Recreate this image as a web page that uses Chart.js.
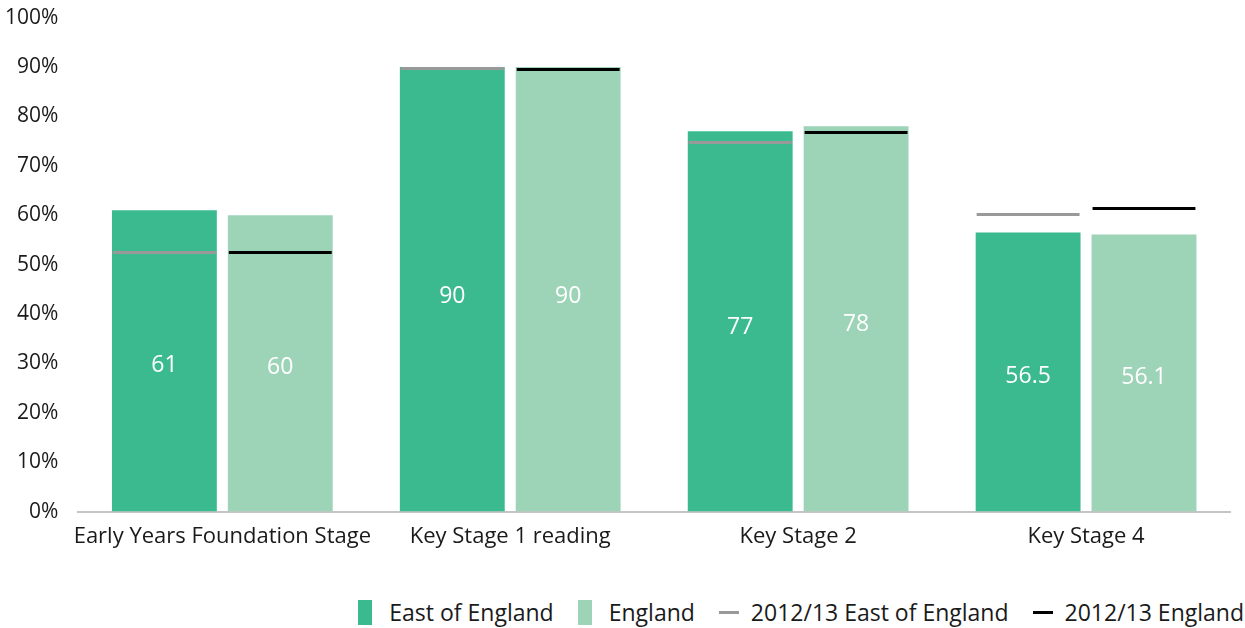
<!DOCTYPE html>
<html>
<head>
<meta charset="utf-8">
<script src="https://cdn.jsdelivr.net/npm/chart.js@4/dist/chart.umd.min.js"></script>
<style>
  html, body { margin: 0; padding: 0; background: #fff; overflow: hidden; }
  body { width: 1245px; height: 628px; position: relative; font-family: "Open Sans", "Noto Sans", sans-serif; color: #1a1a1a; }
  #wrap { position: absolute; left: 0; top: -7px; width: 1245px; height: 561px; }
  #legend { position: absolute; right: 1px; top: 596px; display: flex; align-items: center; font-size: 23px; white-space: nowrap; }
  #legend .item { display: flex; align-items: center; margin-left: 24px; }
  #legend .box { width: 14px; height: 25px; margin-right: 17px; }
  #legend .line { width: 20px; height: 3px; margin-right: 12px; }
</style>
</head>
<body>
<div id="wrap"><canvas id="chart"></canvas></div>
<div id="legend"></div>
<script>
// ---- data ----
const categories = ['Early Years Foundation Stage', 'Key Stage 1 reading', 'Key Stage 2', 'Key Stage 4'];
const eastValues = [61, 90, 77, 56.5];
const englandValues = [60, 90, 78, 56.1];
const prevEast = [52.5, 89.8, 74.8, 60.2];
const prevEngland = [52.5, 89.6, 76.8, 61.5];
const yTicks = [0, 10, 20, 30, 40, 50, 60, 70, 80, 90, 100];

const COL_EAST = '#3bba90';
const COL_ENG = '#9dd4b8';
const COL_PREV_EAST = '#999999';
const COL_PREV_ENG = '#000000';
const FONT = '"Open Sans", "Noto Sans", sans-serif';

// draws the 2012/13 markers across each bar, plus the value labels
const overlayPlugin = {
  id: 'overlay',
  afterDatasetsDraw(chart) {
    const ctx = chart.ctx;
    const y = chart.scales.y;
    const prevSets = [prevEast, prevEngland];
    const lineCols = [COL_PREV_EAST, COL_PREV_ENG];
    [0, 1].forEach(i => {
      const meta = chart.getDatasetMeta(i);
      const vals = chart.data.datasets[i].data;
      meta.data.forEach((bar, j) => {
        const half = bar.width / 2;
        // value label
        ctx.save();
        ctx.fillStyle = '#ffffff';
        ctx.font = '23px ' + FONT;
        ctx.textAlign = 'center';
        ctx.textBaseline = 'middle';
        ctx.fillText(String(vals[j]), bar.x, y.getPixelForValue(vals[j] * 0.485));
        ctx.restore();
        // previous year line
        const py = Math.round(y.getPixelForValue(prevSets[i][j])) + 0.5;
        ctx.save();
        ctx.strokeStyle = lineCols[i];
        ctx.lineWidth = 3;
        ctx.beginPath();
        ctx.moveTo(bar.x - half + 1, py);
        ctx.lineTo(bar.x + half - 1, py);
        ctx.stroke();
        ctx.restore();
      });
    });
  }
};

const chart = new Chart(document.getElementById('chart'), {
  type: 'bar',
  data: {
    labels: categories,
    datasets: [
      { label: 'East of England', data: eastValues, backgroundColor: COL_EAST, borderWidth: 0 },
      { label: 'England', data: englandValues, backgroundColor: COL_ENG, borderWidth: 0 },
    ],
  },
  options: {
    responsive: true,
    maintainAspectRatio: false,
    animation: false,
    layout: { padding: { top: 0, right: 15, left: -7, bottom: 0 } },
    categoryPercentage: 0.805,
    barPercentage: 0.905,
    plugins: {
      legend: { display: false },
      tooltip: { enabled: false },
    },
    scales: {
      x: {
        grid: { display: false },
        border: { display: true, color: '#c4c4c4', width: 2 },
        ticks: { color: '#1a1a1a', font: { size: 22, family: FONT }, padding: 4, maxRotation: 0, autoSkip: false },
      },
      y: {
        min: 0,
        max: 100,
        afterBuildTicks: (axis) => { axis.ticks = yTicks.map(v => ({ value: v })); },
        grid: { display: false },
        border: { display: false },
        ticks: {
          color: '#1a1a1a',
          font: { size: 21, family: FONT },
          padding: 12,
          callback: (v) => v + '%',
        },
      },
    },
  },
  plugins: [overlayPlugin],
});

// legend
const legendItems = [
  { text: 'East of England', kind: 'box', color: COL_EAST },
  { text: 'England', kind: 'box', color: COL_ENG },
  { text: '2012/13 East of England', kind: 'line', color: COL_PREV_EAST },
  { text: '2012/13 England', kind: 'line', color: COL_PREV_ENG },
];
document.getElementById('legend').innerHTML = legendItems.map(it =>
  `<div class="item"><span class="${it.kind}" style="background:${it.color}"></span><span>${it.text}</span></div>`
).join('');
</script>
</body>
</html>
